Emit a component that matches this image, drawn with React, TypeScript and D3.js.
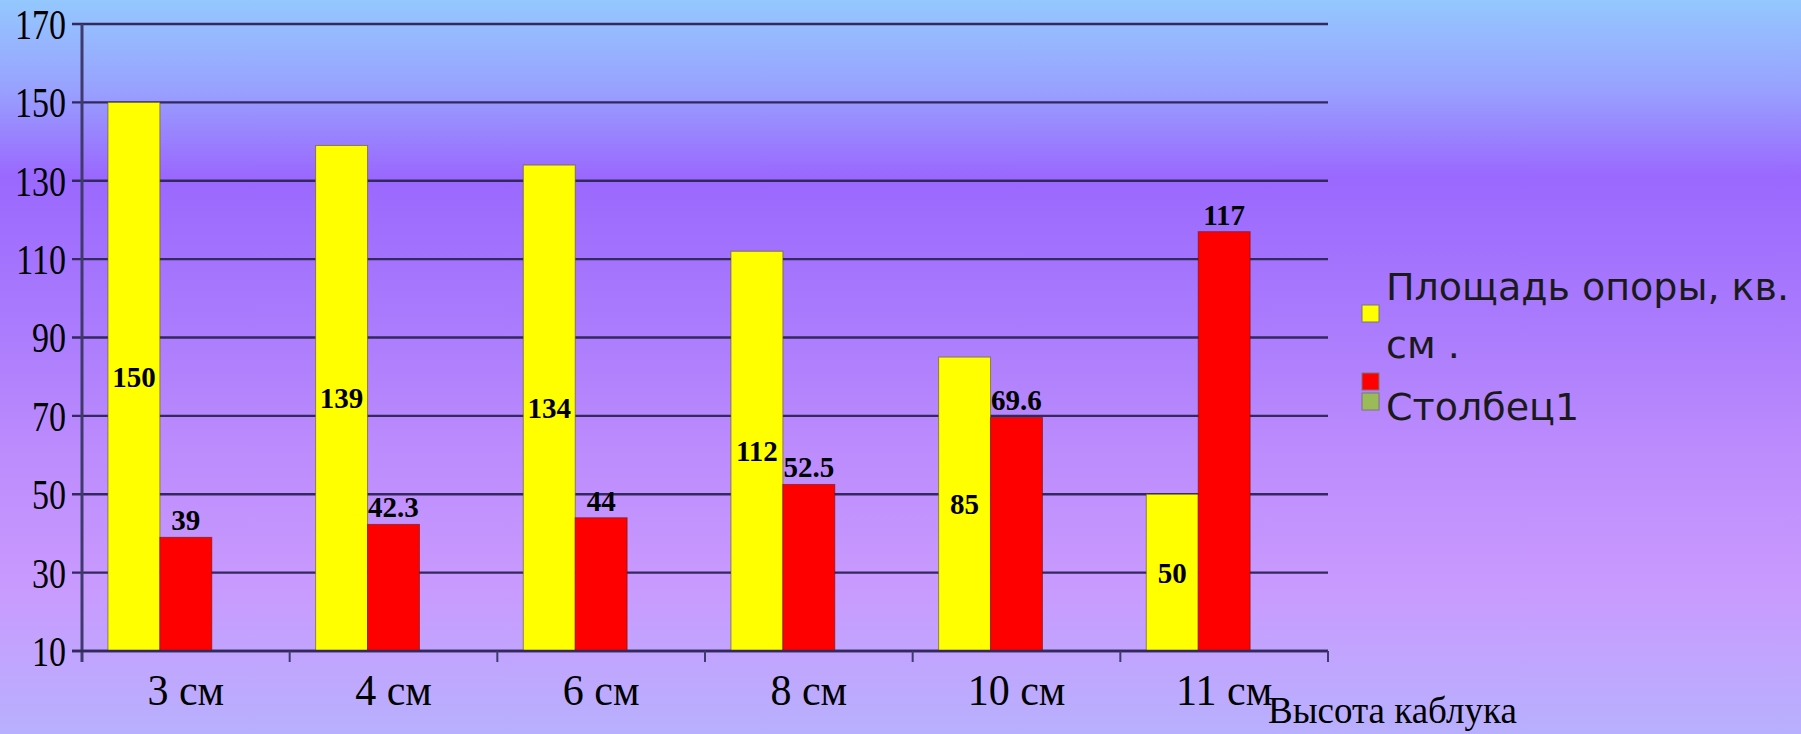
import { useMemo } from 'react';
import * as d3 from 'd3';

// chart data
const categories = ['3 см', '4 см', '6 см', '8 см', '10 см', '11 см'];
const areaValues = [150, 139, 134, 112, 85, 50];
const secondValues = [39, 42.3, 44, 52.5, 69.6, 117];
const yTicks = [10, 30, 50, 70, 90, 110, 130, 150, 170];
const seriesKeys = ['area', 'second', 'col1'];
const legendItems = [
	{ key: 'area', color: '#ffff00', lines: ['Площадь опоры, кв.', 'см .'] },
	{ key: 'second', color: '#ff0000', lines: [] as string[] },
	{ key: 'col1', color: '#9bbb59', lines: ['Столбец1'] },
];
const axisTitle = 'Высота каблука';

const W = 1801;
const H = 734;
const plot = { left: 82, right: 1328, top: 24, bottom: 651 };

export default function App() {
	const x0 = useMemo(() => d3.scaleBand<string>().domain(categories).range([plot.left, plot.right]).padding(0), []);
	const x1 = useMemo(() => d3.scaleBand<string>().domain(seriesKeys).range([0, x0.bandwidth()]).paddingInner(0).paddingOuter(0.5), [x0]);
	const y = useMemo(() => d3.scaleLinear().domain([10, 170]).range([plot.bottom, plot.top]), []);

	const serif = '"Liberation Serif", "Times New Roman", serif';
	const sans = '"DejaVu Sans", Verdana, sans-serif';

	return (
		<div style={{ position: 'fixed', left: 0, top: 0 }}>
			<svg width={W} height={H} style={{ display: 'block' }}>
				<defs>
					<linearGradient id="bg" x1="0" y1="0" x2="0" y2="1">
						<stop offset="0" stopColor="#94c8fe" />
						<stop offset="0.12" stopColor="#98a2fe" />
						<stop offset="0.24" stopColor="#9a68fe" />
						<stop offset="0.45" stopColor="#ab7cfd" />
						<stop offset="0.62" stopColor="#bd8cfd" />
						<stop offset="0.8" stopColor="#c99afe" />
						<stop offset="1" stopColor="#b8b0fe" />
					</linearGradient>
				</defs>
				<rect x={0} y={0} width={W} height={H} fill="url(#bg)" />

				{/* gridlines */}
				{yTicks.map((t) => (
					<line key={`g${t}`} x1={plot.left - 10} x2={plot.right} y1={y(t)} y2={y(t)} stroke="#33295e" strokeWidth={2.3} />
				))}

				{/* y tick labels, tall and narrow like the source */}
				{yTicks.map((t) => (
					<text key={`yl${t}`} transform={`translate(66,${y(t)}) scale(1,1.25)`} dy="0.35em" textAnchor="end" fontFamily={serif} fontSize={34} fill="#000">
						{t}
					</text>
				))}

				{/* bars */}
				{categories.map((c, i) => (
					<g key={c} transform={`translate(${x0(c)},0)`}>
						<rect x={x1('area')} y={y(areaValues[i])} width={x1.bandwidth()} height={y(10) - y(areaValues[i])} fill="#ffff00" stroke="rgba(90,80,40,0.6)" strokeWidth={1} />
						<rect x={x1('second')} y={y(secondValues[i])} width={x1.bandwidth()} height={y(10) - y(secondValues[i])} fill="#ff0000" stroke="rgba(110,20,20,0.6)" strokeWidth={1} />
					</g>
				))}

				{/* axes */}
				<line x1={plot.left} x2={plot.left} y1={plot.top} y2={plot.bottom + 11} stroke="#3f3a6e" strokeWidth={3} />
				<line x1={plot.left - 10} x2={plot.right} y1={plot.bottom} y2={plot.bottom} stroke="#33295e" strokeWidth={2.3} />
				{categories.map((c) => (
					<line key={`xt${c}`} x1={(x0(c) as number) + x0.bandwidth()} x2={(x0(c) as number) + x0.bandwidth()} y1={plot.bottom} y2={plot.bottom + 11} stroke="#3f3a6e" strokeWidth={2} />
				))}

				{/* x labels */}
				{categories.map((c) => (
					<text key={`xl${c}`} transform={`translate(${(x0(c) as number) + x0.bandwidth() / 2},705) scale(1,1.06)`} textAnchor="middle" fontFamily={serif} fontSize={42} fill="#000">
						{c}
					</text>
				))}

				{/* data labels */}
				{categories.map((c, i) => (
					<g key={`dl${c}`} transform={`translate(${x0(c)},0)`} fontFamily={serif} fontWeight="bold" fontSize={29} fill="#000">
						<text x={(x1('area') as number) + x1.bandwidth() / 2} y={(y(areaValues[i]) + y(10)) / 2} dy="0.35em" textAnchor="middle">
							{areaValues[i]}
						</text>
						<text x={(x1('second') as number) + x1.bandwidth() / 2} y={y(secondValues[i]) - 7} textAnchor="middle">
							{secondValues[i]}
						</text>
					</g>
				))}

				{/* legend */}
				<g fontFamily={sans} fontSize={38} fill="#1a1a1a">
					<rect x={1362} y={305} width={17} height={17} fill={legendItems[0].color} stroke="#777" strokeWidth={1} />
					<text x={1386} y={300}>{legendItems[0].lines[0]}</text>
					<text x={1386} y={358}>{legendItems[0].lines[1]}</text>
					<rect x={1362} y={373} width={17} height={17} fill={legendItems[1].color} stroke="#777" strokeWidth={1} />
					<rect x={1362} y={393} width={17} height={17} fill={legendItems[2].color} stroke="#777" strokeWidth={1} />
					<text x={1386} y={420}>{legendItems[2].lines[0]}</text>
				</g>

				{/* axis title */}
				<text x={1268} y={723} fontFamily={serif} fontSize={37} fill="#000">
					{axisTitle}
				</text>
			</svg>
		</div>
	);
}
